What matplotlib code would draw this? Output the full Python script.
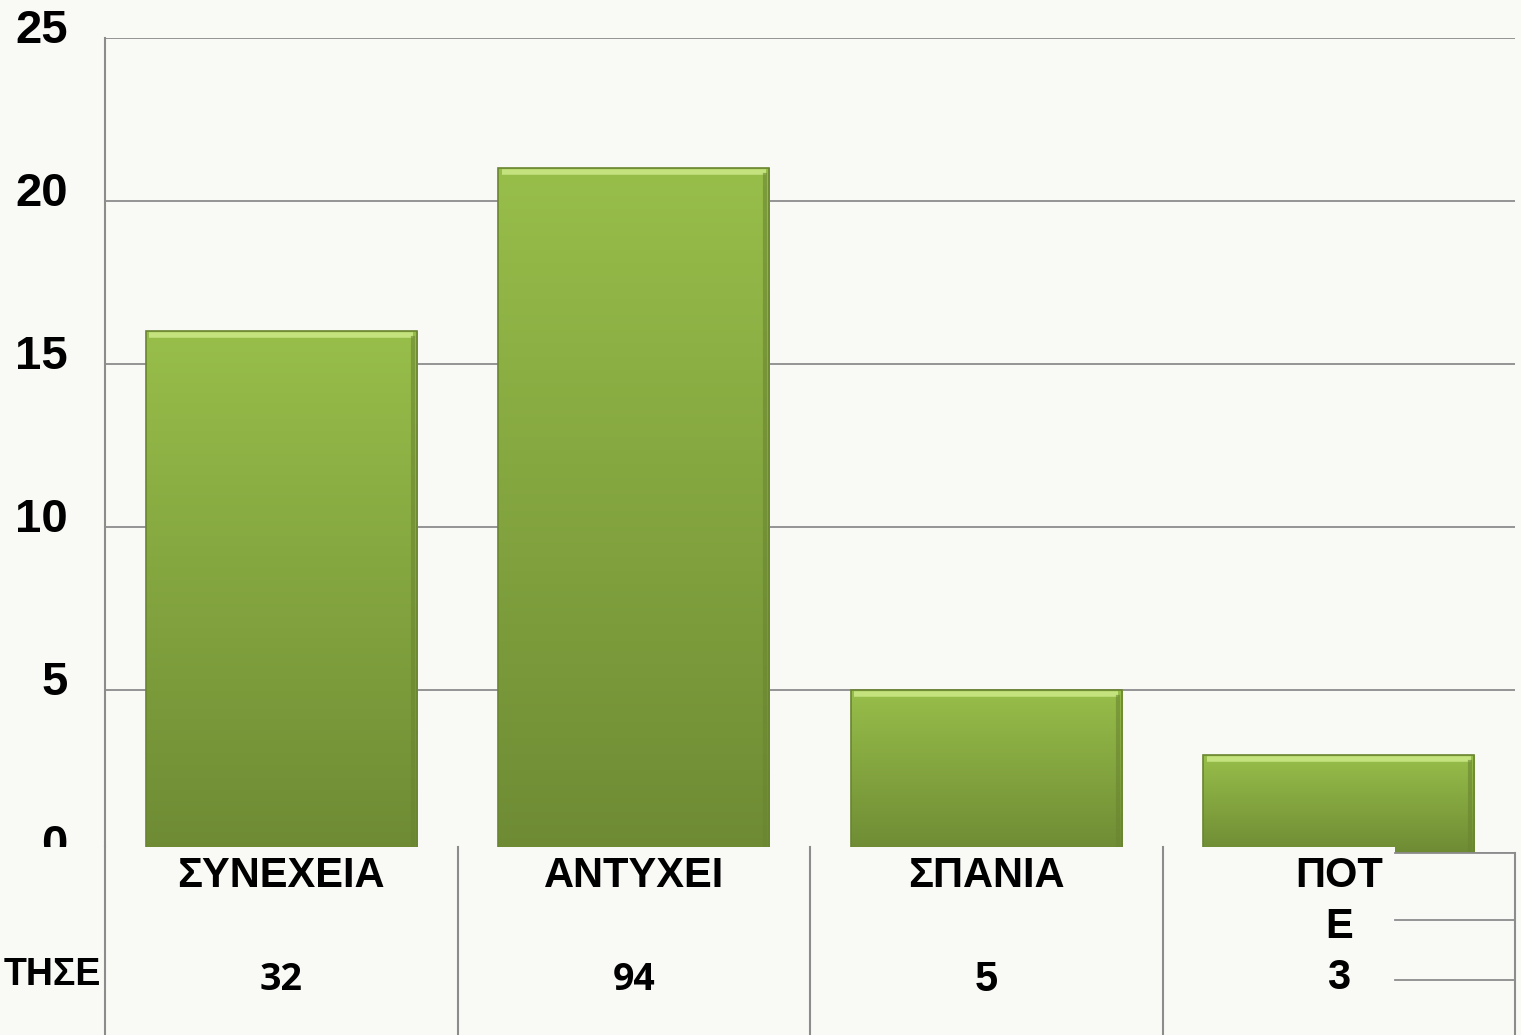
import numpy as np
import matplotlib
matplotlib.use("Agg")
import matplotlib.pyplot as plt
from matplotlib.patches import Rectangle
from matplotlib.lines import Line2D
import matplotlib.transforms as mtransforms

categories = ["ΣΥΝΕΧΕΙΑ", "ΑΝΤΥΧΕΙ", "ΣΠΑΝΙΑ", "ΠΟΤ\nΕ\n3"]
values = [16, 21, 5, 3]
table_counts = ["32", "94", "5", ""]
row_label = "ΤΗΣΕ"
yticks = [0, 5, 10, 15, 20, 25]

bg = "#f9faf6"
W, H = 1521, 1035

fig = plt.figure(figsize=(W / 100, H / 100), dpi=100, facecolor=bg)
ax = fig.add_axes([105 / W, 1 - 853 / H, 1410 / W, (853 - 38) / H])
ax.set_facecolor(bg)

x = np.arange(len(values))
bars = ax.bar(x, values, width=0.77, color="none", edgecolor="none", zorder=3)

# gradient fill for each bar, with a light bevel on top
grad = np.linspace(0, 1, 256).reshape(-1, 1)
cmap = matplotlib.colors.LinearSegmentedColormap.from_list("g", ["#6e8b34", "#98be4a"])
for b in bars:
    x0, w, h = b.get_x(), b.get_width(), b.get_height()
    im = ax.imshow(grad, extent=[x0, x0 + w, 0, h], origin="lower", cmap=cmap,
                   aspect="auto", zorder=3)
    im.set_clip_path(b)
    ax.add_patch(Rectangle((x0, 0), w, h, fill=False, edgecolor="#6a8530",
                           linewidth=1.2, zorder=4))
    ax.plot([x0 + 0.01, x0 + w - 0.01], [h - 0.12, h - 0.12], color="#c4e27e",
            linewidth=4, solid_capstyle="butt", zorder=4)
    ax.plot([x0 + w - 0.012, x0 + w - 0.012], [0, h - 0.2], color="#6a8530",
            linewidth=3, alpha=0.6, zorder=4)

ax.set_xlim(-0.5, len(values) - 0.5)
ax.set_ylim(0, 25)
ax.set_yticks(yticks)
ax.set_xticks([])
ax.yaxis.grid(True, color="#8c8c8c", linewidth=1.3, zorder=0)
ax.set_axisbelow(True)
for s in ["top", "right", "bottom"]:
    ax.spines[s].set_visible(False)
ax.spines["left"].set_color("#8c8c8c")
ax.spines["left"].set_linewidth(1.5)
ax.tick_params(axis="y", length=0, pad=27)
offset = mtransforms.ScaledTranslation(0, 12 / 100, fig.dpi_scale_trans)
for lab in ax.get_yticklabels():
    lab.set_fontfamily("Liberation Sans")
    lab.set_fontweight("bold")
    lab.set_fontsize(34)
    lab.set_transform(lab.get_transform() + offset)

# data table area below the plot
fy = lambda py: 1 - py / H
fig.patches.append(Rectangle((0, 0), 1395 / W, fy(847), transform=fig.transFigure,
                             facecolor=bg, edgecolor="none", zorder=5))
blend = mtransforms.blended_transform_factory(ax.transData, fig.transFigure)
lc = "#8c8c8c"
for i in range(len(values)):
    fig.add_artist(Line2D([i - 0.5, i - 0.5], [0, fy(847)], transform=blend,
                          color=lc, linewidth=1.5, zorder=6))
fig.add_artist(Line2D([len(values) - 0.5] * 2, [0, fy(853)], transform=blend,
                      color=lc, linewidth=1.5, zorder=6))
for py in [853, 920, 980]:
    fig.add_artist(Line2D([1395 / W, 1515 / W], [fy(py), fy(py)],
                          transform=fig.transFigure, color=lc, linewidth=1.3, zorder=6))

for i, (cat, cnt) in enumerate(zip(categories, table_counts)):
    if "\n" in cat:
        for j, part in enumerate(cat.split("\n")):
            fig.text(i, fy(876 + 51 * j), part, transform=blend, ha="center",
                     va="center", fontsize=30, fontweight="bold",
                     family="Liberation Sans", zorder=7)
    else:
        fig.text(i, fy(876), cat, transform=blend, ha="center", va="center",
                 fontsize=30, fontweight="bold", family="Liberation Sans", zorder=7)
    if cnt:
        fam = "Open Sans" if len(cnt) > 1 else "Liberation Sans"
        fig.text(i, fy(980), cnt, transform=blend, ha="center", va="center",
                 fontsize=27 if len(cnt) > 1 else 30, fontweight="bold",
                 family=fam, zorder=7)
fig.text(101 / W, fy(975), row_label, ha="right", va="center", fontsize=27,
         fontweight="bold", family="Liberation Sans", zorder=7)

fig.savefig("out.png", dpi=100, facecolor=bg)
